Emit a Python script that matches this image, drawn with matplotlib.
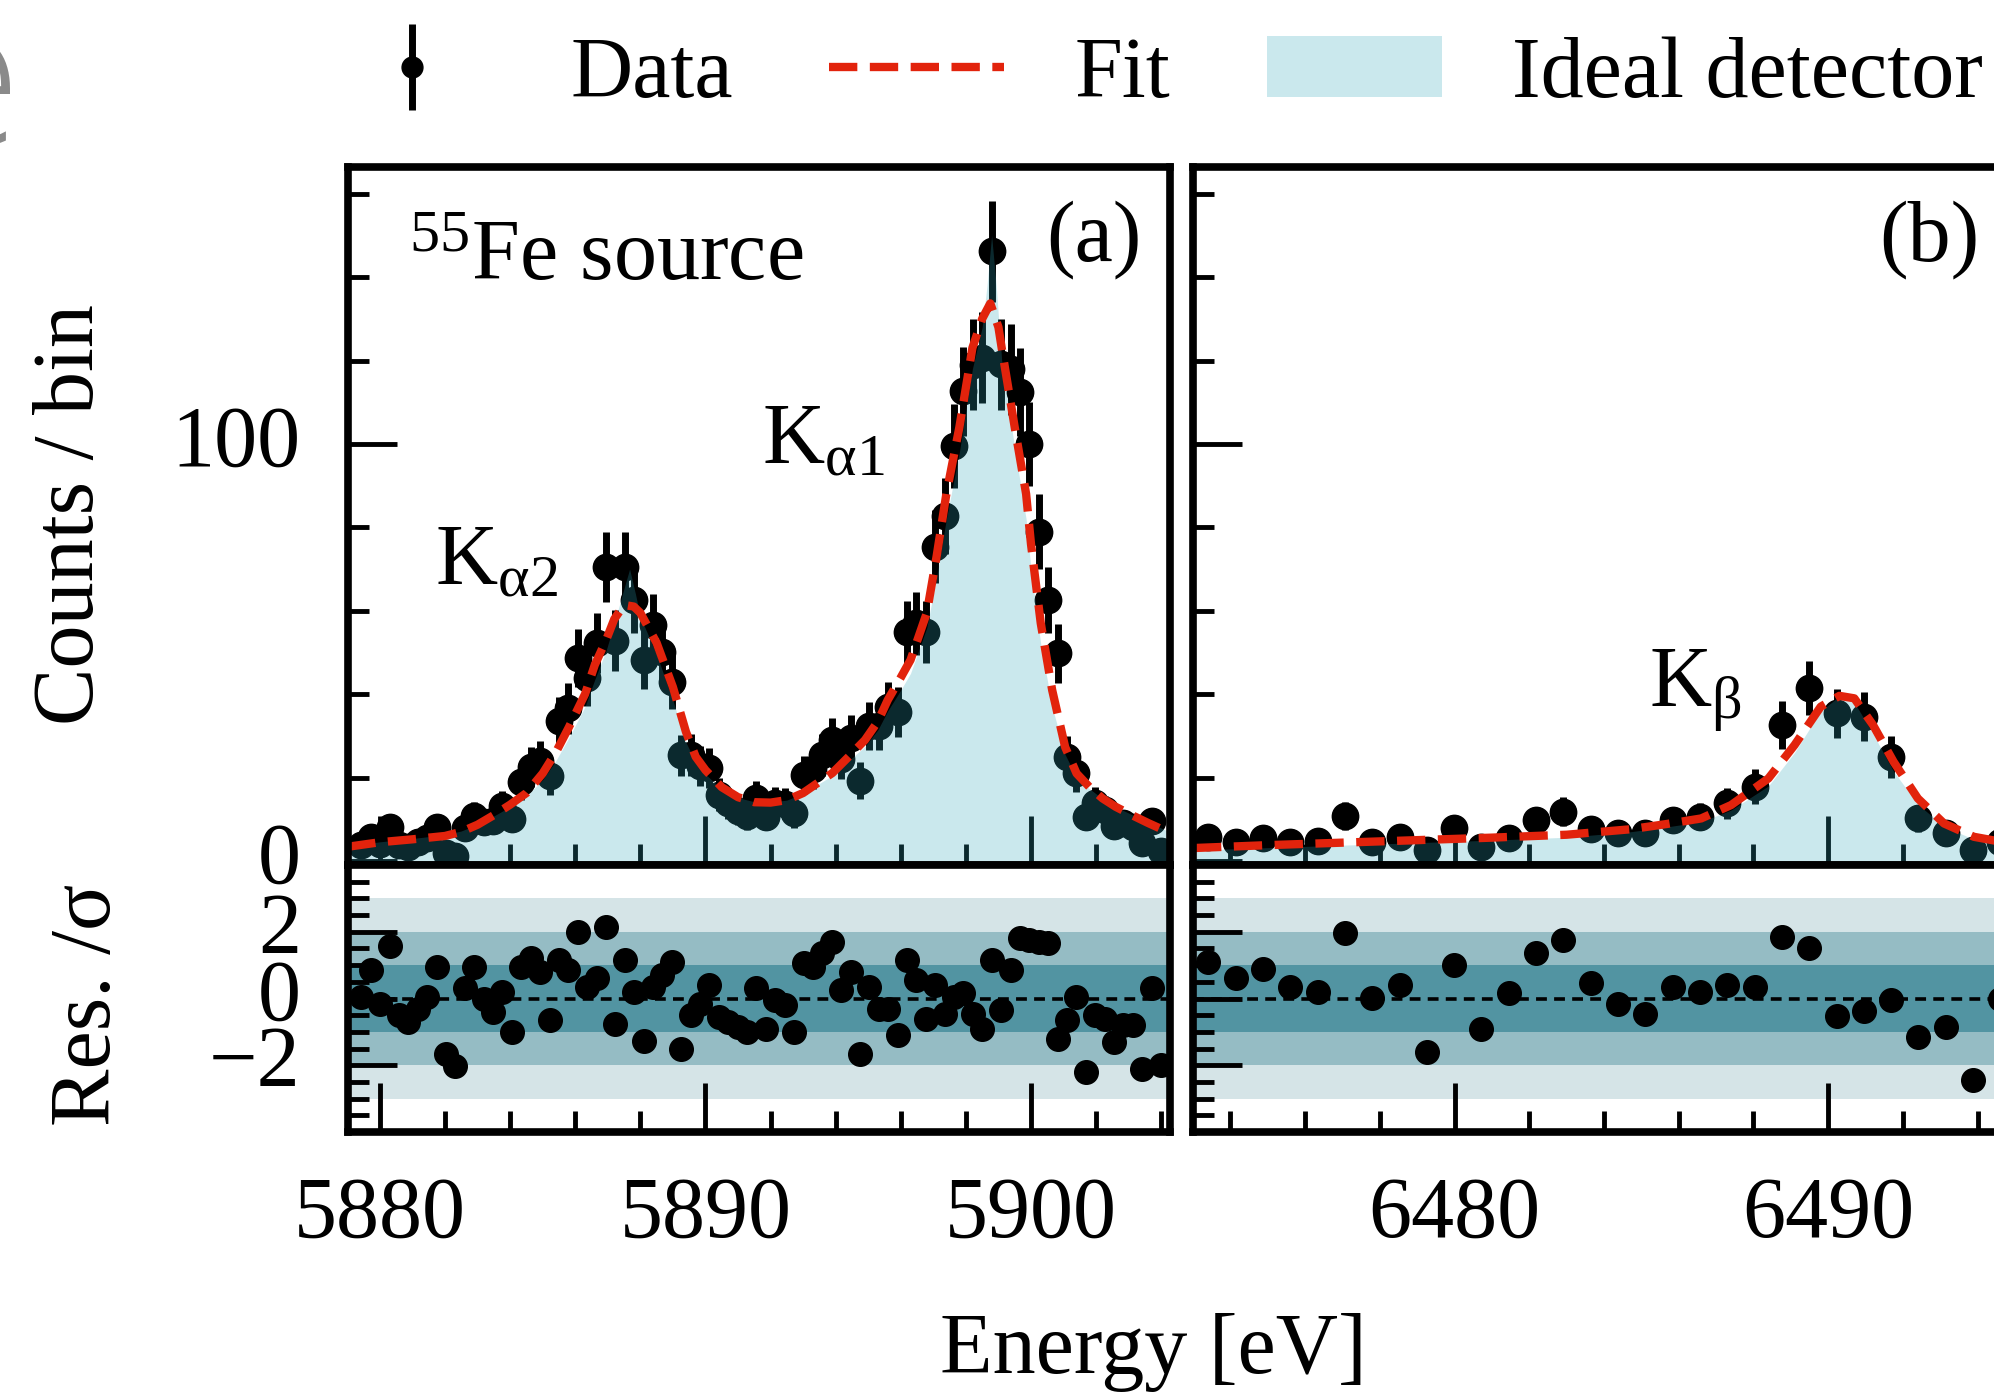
import numpy as np
import matplotlib
matplotlib.use("Agg")
import matplotlib.pyplot as plt
import matplotlib.transforms as mtransforms
from matplotlib.patches import Patch
from matplotlib.lines import Line2D
from matplotlib.ticker import MultipleLocator, FixedLocator

plt.rcParams['font.family'] = ['Liberation Serif', 'DejaVu Serif']
plt.rcParams['mathtext.fontset'] = 'custom'
plt.rcParams['mathtext.rm'] = 'Liberation Serif'
plt.rcParams['mathtext.it'] = 'Liberation Serif:italic'
plt.rcParams['axes.unicode_minus'] = True

# ---------------- data: panel (a) Ka lines ----------------
energy_a = [5879.43 + 0.289 * i for i in range(86)]
counts_a = [3.9, 5.8, 4.1, 8.1, 3.8, 3.4, 4.5, 5.6, 8.1, 2.0,
            1.3, 8.0, 10.9, 9.3, 9.5, 13.2, 10.1, 19.0, 22.5, 23.9,
            20.3, 33.5, 36.6, 48.6, 43.8, 52.2, 70.5, 52.8, 70.4, 62.6,
            48.3, 56.6, 50.0, 43.0, 25.3, 25.4, 22.8, 22.3, 15.9, 13.8,
            12.0, 10.7, 15.2, 10.6, 13.9, 13.7, 11.4, 20.7, 22.0, 25.5,
            28.9, 24.5, 29.5, 19.3, 32.4, 32.3, 36.9, 35.8, 54.9, 57.0,
            54.9, 75.4, 82.8, 99.5, 112.6, 119.0, 120.7, 146.2, 119.1, 117.9,
            112.5, 100.0, 79.0, 62.6, 49.8, 25.0, 21.2, 10.6, 14.0, 12.2,
            8.3, 9.2, 8.2, 4.3, 9.7, 2.5]
resid_a = [0.05, 0.85, -0.17, 1.57, -0.50, -0.70, -0.30, 0.05, 0.95, -1.65,
           -2.03, 0.30, 0.93, 0.00, -0.40, 0.20, -1.00, 0.95, 1.20, 0.80,
           -0.65, 1.15, 0.85, 2.00, 0.35, 0.60, 2.15, -0.75, 1.15, 0.20,
           -1.27, 0.35, 0.70, 1.10, -1.50, -0.50, -0.15, 0.40, -0.55, -0.70,
           -0.85, -1.00, 0.30, -0.90, -0.05, -0.20, -1.00, 1.05, 0.95, 1.35,
           1.70, 0.25, 0.80, -1.65, 0.35, -0.30, -0.30, -1.10, 1.15, 0.55,
           -0.60, 0.40, -0.45, 0.05, 0.15, -0.45, -0.90, 1.15, -0.35, 0.85,
           1.80, 1.75, 1.70, 1.65, -1.20, -0.65, 0.05, -2.20, -0.50, -0.60,
           -1.30, -0.80, -0.80, -2.10, 0.30, -2.00]

fit_a_e = [5879.0, 5880.0, 5881.0, 5882.0, 5882.5, 5883.0, 5883.5, 5884.0, 5884.5, 5885.0,
           5885.4, 5885.8, 5886.3, 5886.6, 5886.95, 5887.2, 5887.5, 5887.8, 5888.0, 5888.5,
           5889.0, 5889.4, 5889.7, 5890.0, 5890.5, 5891.0, 5891.5, 5892.0, 5892.5, 5893.0,
           5893.5, 5893.9, 5894.4, 5894.9, 5895.3, 5895.6, 5896.0, 5896.3, 5896.8, 5897.1,
           5897.4, 5897.8, 5898.2, 5898.5, 5898.75, 5899.0, 5899.1, 5899.5, 5899.85, 5900.0,
           5900.3, 5900.65, 5901.05, 5901.4, 5901.8, 5902.2, 5902.6, 5903.1, 5903.6, 5904.25]
fit_a_c = [3.4, 4.5, 5.2, 6.0, 7.0, 8.7, 11.0, 13.5, 16.3, 21.0,
           26.0, 32.0, 40.0, 47.0, 53.0, 58.0, 61.4, 61.0, 59.5, 52.3,
           41.7, 31.0, 25.0, 21.8, 17.7, 15.3, 14.1, 14.0, 14.6, 16.3,
           19.0, 21.1, 25.0, 29.0, 33.5, 38.6, 44.0, 48.2, 59.5, 73.0,
           88.0, 104.0, 123.0, 130.0, 133.7, 128.0, 123.0, 104.0, 88.0, 76.0,
           57.0, 41.0, 27.3, 21.0, 17.7, 15.0, 13.0, 11.0, 9.1, 6.8]

ideal_a_e = [5879.0, 5880.0, 5881.0, 5882.0, 5882.5, 5883.0, 5883.5, 5884.0, 5884.5, 5885.0,
             5885.4, 5885.8, 5886.3, 5886.6, 5886.95, 5887.2, 5887.45, 5887.67, 5887.85, 5888.0,
             5888.5, 5889.0, 5889.4, 5889.7, 5890.0, 5890.5, 5891.0, 5891.5, 5892.0, 5892.5,
             5893.0, 5893.5, 5893.9, 5894.4, 5894.9, 5895.3, 5895.6, 5896.0, 5896.3, 5896.8,
             5897.1, 5897.4, 5897.8, 5898.2, 5898.5, 5898.65, 5898.79, 5898.93, 5899.1, 5899.5,
             5899.85, 5900.0, 5900.3, 5900.65, 5901.05, 5901.4, 5901.8, 5902.2, 5902.6, 5903.1,
             5903.6, 5904.25]
ideal_a_c = [3.6, 4.6, 5.4, 6.3, 7.2, 8.8, 10.8, 13.0, 15.5, 19.5,
             24.0, 29.5, 37.0, 43.5, 50.5, 57.0, 64.0, 70.0, 64.0, 58.5,
             49.5, 38.5, 28.5, 23.5, 20.8, 17.2, 15.2, 14.2, 14.1, 14.6,
             16.2, 18.6, 20.5, 24.0, 27.5, 31.5, 36.0, 41.0, 45.0, 56.0,
             68.0, 82.0, 98.0, 118.0, 128.0, 138.0, 150.0, 138.0, 120.0, 99.0,
             82.0, 70.0, 52.0, 37.0, 25.5, 20.0, 17.3, 14.9, 13.0, 11.1,
             9.3, 7.0]

# ---------------- data: panel (b) Kb line ----------------
energy_b = [6473.41 + 0.731 * j for j in range(30)]
counts_b = [5.8, 4.6, 5.6, 4.6, 4.9, 10.8, 4.6, 5.8, 2.6, 7.8,
            3.4, 5.6, 9.8, 11.8, 7.6, 6.6, 6.6, 9.8, 10.6, 13.8,
            17.8, 32.6, 41.4, 35.4, 34.6, 25.0, 10.2, 6.6, 2.6, 4.6]
resid_b = [1.10, 0.60, 0.87, 0.35, 0.20, 1.97, 0.02, 0.40, -1.60, 1.00,
           -0.90, 0.15, 1.35, 1.75, 0.47, -0.15, -0.45, 0.35, 0.20, 0.40,
           0.35, 1.85, 1.52, -0.53, -0.38, -0.05, -1.15, -0.85, -2.45, 0.00]

fit_b_e = [6473.0, 6475.0, 6477.0, 6479.0, 6481.0, 6483.0, 6484.7, 6485.7, 6486.6, 6487.4,
           6488.4, 6489.1, 6489.8, 6490.3, 6490.7, 6491.2, 6491.75, 6492.4, 6493.1, 6493.9,
           6495.0]
fit_b_c = [3.1, 3.8, 4.4, 5.0, 5.6, 6.3, 7.6, 8.9, 10.2, 13.4,
           19.8, 27.8, 37.0, 39.6, 39.0, 32.6, 23.8, 15.0, 9.0, 5.8,
           4.0]
ideal_b_c = [2.6, 3.2, 3.8, 4.4, 5.0, 5.7, 7.0, 8.2, 9.4, 12.2,
             18.0, 26.0, 36.0, 39.5, 38.0, 30.5, 21.5, 13.6, 8.3, 5.2,
             3.6]

xticks_a = [5880, 5890, 5900]
xticks_b = [6480, 6490]

# ---------------- figure ----------------
W, H, DPI = 1994, 1392, 100
fig = plt.figure(figsize=(W / DPI, H / DPI), dpi=DPI)
FS = 62
RED = '#e2230c'
FILL = '#2fa7bb'
DASH = (0, (3.4, 1.5))

Lpos_a, Lpos_b, Wd = 348, 1193, 822
T, M, B = 167, 865, 1132


def rect(l, t, b):
    return [l / W, 1 - b / H, Wd / W, (b - t) / H]


ax_a = fig.add_axes(rect(Lpos_a, T, M))
rs_a = fig.add_axes(rect(Lpos_a, M, B))
ax_b = fig.add_axes(rect(Lpos_b, T, M))
rs_b = fig.add_axes(rect(Lpos_b, M, B))

ylab_shift = mtransforms.ScaledTranslation(0, 6.5 / 72, fig.dpi_scale_trans)


def style(ax, labelx, labely):
    for s in ax.spines.values():
        s.set_linewidth(5.5)
        s.set_zorder(6)
    ax.tick_params(which='both', direction='in', top=False, right=False,
                   width=3.5, labelsize=FS, color='black')
    ax.tick_params(which='major', length=35)
    ax.tick_params(which='minor', length=15)
    ax.tick_params(axis='x', pad=32, labelbottom=labelx)
    ax.tick_params(axis='y', pad=34, labelleft=labely)
    for lbl in ax.get_yticklabels():
        lbl.set_transform(lbl.get_transform() + ylab_shift)


def main_panel(ax, e, c, fe, fc, ie, ic, xlim, xticks):
    c = np.asarray(c)
    ax.errorbar(e, c, yerr=np.sqrt(c), fmt='o', color='black', ms=19,
                elinewidth=5, capsize=0, zorder=2)
    ax.fill_between(ie, 0, ic, color=FILL, alpha=0.25, lw=0, zorder=3)
    ax.plot(fe, fc, color=RED, lw=6, ls=DASH, zorder=4)
    ax.set_xlim(*xlim)
    ax.set_ylim(-0.96, 166.4)
    ax.xaxis.set_major_locator(FixedLocator(xticks))
    ax.xaxis.set_minor_locator(MultipleLocator(2))
    ax.yaxis.set_major_locator(FixedLocator([0, 100]))
    ax.yaxis.set_minor_locator(MultipleLocator(20))


def resid_panel(ax, e, r, xlim, xticks):
    ax.axhspan(-3, 3, color='#d5e4e7', lw=0, zorder=0.2)
    ax.axhspan(-2, 2, color='#95bcc4', lw=0, zorder=0.3)
    ax.axhspan(-1, 1, color='#5294a2', lw=0, zorder=0.4)
    ax.axhline(0, color='black', lw=2.6, ls=(0, (3, 2)), zorder=1)
    ax.plot(e, r, 'o', color='black', ms=17, zorder=3)
    ax.set_xlim(*xlim)
    ax.set_ylim(-4, 4)
    ax.xaxis.set_major_locator(FixedLocator(xticks))
    ax.xaxis.set_minor_locator(MultipleLocator(2))
    ax.yaxis.set_major_locator(FixedLocator([-2, 0, 2]))
    ax.yaxis.set_minor_locator(FixedLocator([k * 0.5 for k in range(-7, 8)]))


xlim_a = (5879.02, 5904.27)
xlim_b = (6473.0, 6495.0)
main_panel(ax_a, energy_a, counts_a, fit_a_e, fit_a_c, ideal_a_e, ideal_a_c, xlim_a, xticks_a)
main_panel(ax_b, energy_b, counts_b, fit_b_e, fit_b_c, fit_b_e, ideal_b_c, xlim_b, xticks_b)
resid_panel(rs_a, energy_a, resid_a, xlim_a, xticks_a)
resid_panel(rs_b, energy_b, resid_b, xlim_b, xticks_b)

style(ax_a, False, True)
style(ax_b, False, False)
style(rs_a, True, True)
style(rs_b, True, False)

# annotations
ax_a.text(5880.9, 139.3, r'$^{55}$Fe source', fontsize=FS, va='baseline', ha='left')
ax_a.text(5903.4, 143.9, '(a)', fontsize=FS, va='baseline', ha='right')
ax_a.text(5881.7, 66.2, r'K$_{\mathrm{α2}}$', fontsize=FS, va='baseline', ha='left')
ax_a.text(5891.75, 95.2, r'K$_{\mathrm{α1}}$', fontsize=FS, va='baseline', ha='left')
ax_b.text(6485.2, 37.2, r'K$_{\mathrm{β}}$', fontsize=FS, va='baseline', ha='left')
ax_b.text(6494.04, 143.9, '(b)', fontsize=FS, va='baseline', ha='right')

fig.text(72 / W, 1 - 515 / H, 'Counts / bin', rotation=90, ha='center', va='center', fontsize=FS)
fig.text(89 / W, 1 - 1005 / H, 'Res. /σ', rotation=90, ha='center', va='center', fontsize=FS)
fig.text(1153 / W, 1 - 1352 / H, 'Energy [eV]', ha='center', va='center', fontsize=FS)

# cropped grey glyph at the top-left corner
fig.text(24 / W, 1 - 92 / H, 'e', ha='right', va='center', fontsize=140, color='#8a8a8a',
         family='DejaVu Sans', fontweight='light')

# legend
h_data = ax_a.errorbar([], [], yerr=[], fmt='o', color='black', ms=15,
                       elinewidth=5, capsize=0)
h_fit = Line2D([], [], color=RED, lw=6, ls=DASH)
h_ideal = Patch(facecolor=FILL, alpha=0.25, edgecolor='none')
fig.legend([h_data, h_fit, h_ideal], ['Data', 'Fit', 'Ideal detector'],
           loc='center left', bbox_to_anchor=(325 / W, 1 - 76 / H), ncol=3,
           frameon=False, fontsize=FS, handlelength=2.03, handleheight=0.7,
           handletextpad=0.82, columnspacing=1.12, borderpad=0, borderaxespad=0)

fig.savefig('out.png', dpi=DPI)
